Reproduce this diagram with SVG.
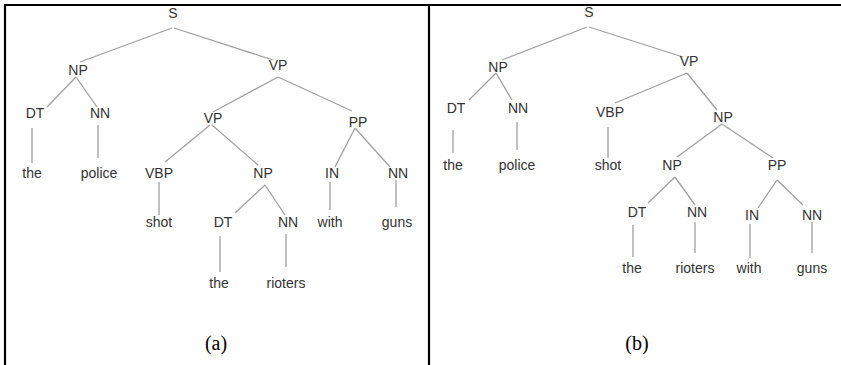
<svg xmlns="http://www.w3.org/2000/svg" width="841" height="365" viewBox="0 0 841 365">
  <style>
    .lbl { font-family: "Liberation Sans", Arial, sans-serif; font-size: 14px; fill: #333; text-anchor: middle; }
    .cap { font-family: "Liberation Serif", "Times New Roman", serif; font-size: 20px; fill: #000; text-anchor: middle; }
    .edge { stroke: #a0a0a0; stroke-width: 1.3; fill: none; }
    .frame { stroke: #000; stroke-width: 2.2; fill: none; }
  </style>
  <rect width="841" height="365" fill="#fff"/>

  <!-- panel frame -->
  <g id="frame">
    <line class="frame" x1="5" y1="5" x2="841" y2="5"/>
    <line class="frame" x1="5" y1="4" x2="5" y2="365"/>
    <line class="frame" x1="429" y1="5" x2="429" y2="365"/>
  </g>

  <!-- tree (a): connectors -->
  <g id="edges-a">
    <line class="edge" x1="172" y1="28" x2="80" y2="62"/>
    <line class="edge" x1="174" y1="28" x2="273" y2="60"/>
    <line class="edge" x1="76" y1="77" x2="47" y2="107"/>
    <line class="edge" x1="76" y1="77" x2="97" y2="107"/>
    <line class="edge" x1="278" y1="77" x2="213" y2="112"/>
    <line class="edge" x1="278" y1="77" x2="352" y2="111"/>
    <line class="edge" x1="32" y1="128" x2="32" y2="163"/>
    <line class="edge" x1="98" y1="125" x2="98" y2="158"/>
    <line class="edge" x1="210" y1="125" x2="165" y2="162"/>
    <line class="edge" x1="212" y1="125" x2="258" y2="165"/>
    <line class="edge" x1="355" y1="128" x2="335" y2="167"/>
    <line class="edge" x1="355" y1="128" x2="390" y2="167"/>
    <line class="edge" x1="159" y1="182" x2="159" y2="215"/>
    <line class="edge" x1="265" y1="185" x2="235" y2="213"/>
    <line class="edge" x1="265" y1="185" x2="285" y2="215"/>
    <line class="edge" x1="330" y1="182" x2="330" y2="210"/>
    <line class="edge" x1="396" y1="180" x2="396" y2="207"/>
    <line class="edge" x1="220" y1="236" x2="220" y2="272"/>
    <line class="edge" x1="286" y1="234" x2="286" y2="267"/>
  </g>

  <!-- tree (a): nodes -->
  <g id="a-S"><text class="lbl" x="173" y="18">S</text></g>
  <g id="a-NP"><text class="lbl" x="78" y="75">NP</text></g>
  <g id="a-VP"><text class="lbl" x="278" y="70">VP</text></g>
  <g id="a-DT1"><text class="lbl" x="35" y="118">DT</text></g>
  <g id="a-NN1"><text class="lbl" x="100" y="118">NN</text></g>
  <g id="a-VP2"><text class="lbl" x="213" y="123">VP</text></g>
  <g id="a-PP"><text class="lbl" x="358" y="127">PP</text></g>
  <g id="a-the1"><text class="lbl" x="32" y="178">the</text></g>
  <g id="a-police"><text class="lbl" x="99" y="178">police</text></g>
  <g id="a-VBP"><text class="lbl" x="159" y="178">VBP</text></g>
  <g id="a-NP2"><text class="lbl" x="263" y="178">NP</text></g>
  <g id="a-IN"><text class="lbl" x="332" y="178">IN</text></g>
  <g id="a-NN2"><text class="lbl" x="398" y="178">NN</text></g>
  <g id="a-shot"><text class="lbl" x="159" y="227">shot</text></g>
  <g id="a-DT2"><text class="lbl" x="223" y="227">DT</text></g>
  <g id="a-NN3"><text class="lbl" x="288" y="227">NN</text></g>
  <g id="a-with"><text class="lbl" x="330" y="227">with</text></g>
  <g id="a-guns"><text class="lbl" x="397" y="227">guns</text></g>
  <g id="a-the2"><text class="lbl" x="219" y="288">the</text></g>
  <g id="a-rioters"><text class="lbl" x="286" y="288">rioters</text></g>
  <g id="cap-a"><text class="cap" x="216" y="350">(a)</text></g>

  <!-- tree (b): connectors -->
  <g id="edges-b">
    <line class="edge" x1="587" y1="27" x2="502" y2="60"/>
    <line class="edge" x1="589" y1="27" x2="683" y2="57"/>
    <line class="edge" x1="496" y1="73" x2="469" y2="100"/>
    <line class="edge" x1="496" y1="73" x2="512" y2="100"/>
    <line class="edge" x1="687" y1="73" x2="615" y2="103"/>
    <line class="edge" x1="687" y1="73" x2="717" y2="110"/>
    <line class="edge" x1="453" y1="130" x2="453" y2="153"/>
    <line class="edge" x1="517" y1="122" x2="517" y2="150"/>
    <line class="edge" x1="608" y1="127" x2="608" y2="158"/>
    <line class="edge" x1="722" y1="124" x2="677" y2="157"/>
    <line class="edge" x1="722" y1="124" x2="773" y2="158"/>
    <line class="edge" x1="675" y1="177" x2="648" y2="203"/>
    <line class="edge" x1="675" y1="177" x2="695" y2="205"/>
    <line class="edge" x1="777" y1="180" x2="758" y2="208"/>
    <line class="edge" x1="777" y1="180" x2="803" y2="205"/>
    <line class="edge" x1="633" y1="225" x2="633" y2="257"/>
    <line class="edge" x1="695" y1="222" x2="695" y2="253"/>
    <line class="edge" x1="750" y1="224" x2="750" y2="258"/>
    <line class="edge" x1="812" y1="222" x2="812" y2="253"/>
  </g>

  <!-- tree (b): nodes -->
  <g id="b-S"><text class="lbl" x="589" y="17">S</text></g>
  <g id="b-NP"><text class="lbl" x="498" y="72">NP</text></g>
  <g id="b-VP"><text class="lbl" x="689" y="66">VP</text></g>
  <g id="b-DT1"><text class="lbl" x="456" y="113">DT</text></g>
  <g id="b-NN1"><text class="lbl" x="518" y="113">NN</text></g>
  <g id="b-VBP"><text class="lbl" x="610" y="117">VBP</text></g>
  <g id="b-NP2"><text class="lbl" x="723" y="122">NP</text></g>
  <g id="b-the1"><text class="lbl" x="453" y="170">the</text></g>
  <g id="b-police"><text class="lbl" x="517" y="170">police</text></g>
  <g id="b-shot"><text class="lbl" x="608" y="170">shot</text></g>
  <g id="b-NP3"><text class="lbl" x="672" y="170">NP</text></g>
  <g id="b-PP"><text class="lbl" x="777" y="170">PP</text></g>
  <g id="b-DT2"><text class="lbl" x="637" y="217">DT</text></g>
  <g id="b-NN2"><text class="lbl" x="697" y="217">NN</text></g>
  <g id="b-IN"><text class="lbl" x="752" y="220">IN</text></g>
  <g id="b-NN3"><text class="lbl" x="812" y="220">NN</text></g>
  <g id="b-the2"><text class="lbl" x="632" y="273">the</text></g>
  <g id="b-rioters"><text class="lbl" x="695" y="273">rioters</text></g>
  <g id="b-with"><text class="lbl" x="749" y="273">with</text></g>
  <g id="b-guns"><text class="lbl" x="812" y="273">guns</text></g>
  <g id="cap-b"><text class="cap" x="637" y="350">(b)</text></g>
</svg>
